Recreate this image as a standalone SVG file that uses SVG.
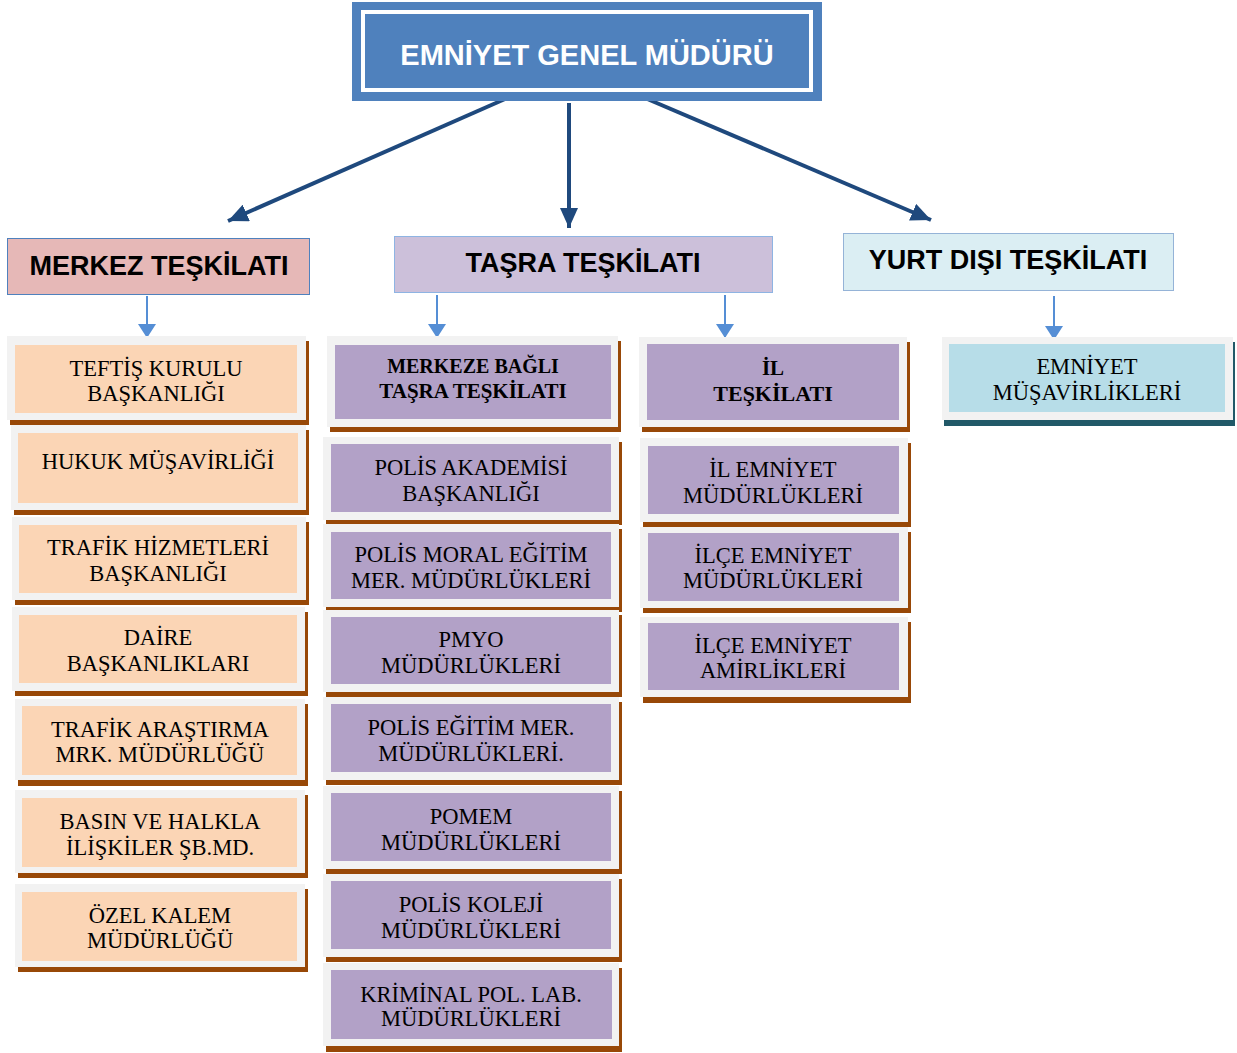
<svg xmlns="http://www.w3.org/2000/svg" width="1237" height="1053" viewBox="0 0 1237 1053">
<defs>
<style>
.title{font-family:"Liberation Sans",Arial,sans-serif;font-weight:bold;font-size:29px;fill:#ffffff;text-anchor:middle}
.head{font-family:"Liberation Sans",Arial,sans-serif;font-weight:bold;font-size:27px;fill:#000000;text-anchor:middle}
.t{font-family:"Liberation Serif","Times New Roman",serif;font-size:22.5px;fill:#000000;text-anchor:middle}
.tb{font-family:"Liberation Serif","Times New Roman",serif;font-weight:bold;font-size:21px;fill:#000000;text-anchor:middle}
.grey{fill:#f2f2f2}
.sh{fill:#984807}
.sh2{fill:#215968}
.peach{fill:#fbd5b5}
.purple{fill:#b2a1c7}
.cyan{fill:#b7dde8}
.big{stroke:#1f497d;stroke-width:4;fill:none}
.small{stroke:#558ed5;stroke-width:2;fill:none}
</style>
<marker id="bigHead" markerUnits="userSpaceOnUse" markerWidth="22" markerHeight="18" refX="20" refY="9" orient="auto">
<path d="M0,0 L20,9 L0,18 Z" fill="#1f497d"/>
</marker>
<marker id="smallHead" markerUnits="userSpaceOnUse" markerWidth="16" markerHeight="18" refX="14" refY="9" orient="auto">
<path d="M0,0 L14,9 L0,18 Z" fill="#558ed5"/>
</marker>
</defs>
<rect width="1237" height="1053" fill="#ffffff"/>

<g id="connectors">
<line class="big" x1="505" y1="99" x2="228" y2="221" marker-end="url(#bigHead)"/>
<line class="big" x1="569" y1="103" x2="569" y2="228" marker-end="url(#bigHead)"/>
<line class="big" x1="645" y1="98" x2="931" y2="220" marker-end="url(#bigHead)"/>
<line class="small" x1="147" y1="296" x2="147" y2="338" marker-end="url(#smallHead)"/>
<line class="small" x1="437" y1="295" x2="437" y2="338" marker-end="url(#smallHead)"/>
<line class="small" x1="725" y1="295" x2="725" y2="338" marker-end="url(#smallHead)"/>
<line class="small" x1="1054" y1="296" x2="1054" y2="340" marker-end="url(#smallHead)"/>
</g>

<g id="emniyet-genel-muduru">
<rect x="352" y="2" width="470" height="99" fill="#4f81bd"/>
<rect x="363" y="12" width="448" height="78" fill="none" stroke="#ffffff" stroke-width="4"/>
<text class="title" x="587" y="65">EMNİYET GENEL MÜDÜRÜ</text>
</g>

<g id="merkez-teskilati">
<rect x="7.5" y="238.5" width="302" height="56" fill="#e6b8b7" stroke="#4f81bd" stroke-width="1"/>
<text class="head" x="159" y="275">MERKEZ TEŞKİLATI</text>
</g>
<g id="tasra-teskilati">
<rect x="394.5" y="236.5" width="378" height="56" fill="#ccc0da" stroke="#8eb4e3" stroke-width="1"/>
<text class="head" x="583" y="272">TAŞRA TEŞKİLATI</text>
</g>
<g id="yurt-disi-teskilati">
<rect x="843.5" y="233.5" width="330" height="57" fill="#dbeef3" stroke="#95b3d7" stroke-width="1"/>
<text class="head" x="1008" y="269">YURT DIŞI TEŞKİLATI</text>
</g>

<!-- Column 1 -->
<g id="teftis">
<rect class="sh" x="10" y="341" width="299" height="84"/>
<rect class="grey" x="7" y="336" width="299" height="84"/>
<rect class="peach" x="15" y="345" width="282" height="68"/>
<text class="t" x="156" y="376">TEFTİŞ KURULU</text>
<text class="t" x="156" y="401">BAŞKANLIĞI</text>
</g>
<g id="hukuk">
<rect class="sh" x="14" y="430" width="295" height="85"/>
<rect class="grey" x="11" y="425" width="295" height="85"/>
<rect class="peach" x="18" y="433" width="280" height="70"/>
<text class="t" x="158" y="469">HUKUK MÜŞAVİRLİĞİ</text>
</g>
<g id="trafik-hizmetleri">
<rect class="sh" x="15" y="522" width="294" height="83"/>
<rect class="grey" x="12" y="517" width="294" height="83"/>
<rect class="peach" x="19" y="525" width="278" height="68"/>
<text class="t" x="158" y="555">TRAFİK HİZMETLERİ</text>
<text class="t" x="158" y="581">BAŞKANLIĞI</text>
</g>
<g id="daire">
<rect class="sh" x="15" y="612" width="293" height="84"/>
<rect class="grey" x="12" y="607" width="293" height="84"/>
<rect class="peach" x="19" y="615" width="278" height="68"/>
<text class="t" x="158" y="645">DAİRE</text>
<text class="t" x="158" y="671">BAŞKANLIKLARI</text>
</g>
<g id="trafik-arastirma">
<rect class="sh" x="18" y="704" width="290" height="82"/>
<rect class="grey" x="15" y="699" width="290" height="81"/>
<rect class="peach" x="22" y="706" width="275" height="69"/>
<text class="t" x="160" y="737">TRAFİK ARAŞTIRMA</text>
<text class="t" x="160" y="762">MRK. MÜDÜRLÜĞÜ</text>
</g>
<g id="basin">
<rect class="sh" x="18" y="795" width="290" height="83"/>
<rect class="grey" x="15" y="790" width="290" height="83"/>
<rect class="peach" x="22" y="798" width="275" height="69"/>
<text class="t" x="160" y="829">BASIN VE HALKLA</text>
<text class="t" x="160" y="855">İLİŞKİLER ŞB.MD.</text>
</g>
<g id="ozel-kalem">
<rect class="sh" x="18" y="889" width="290" height="83"/>
<rect class="grey" x="15" y="884" width="290" height="83"/>
<rect class="peach" x="22" y="892" width="275" height="69"/>
<text class="t" x="160" y="923">ÖZEL KALEM</text>
<text class="t" x="160" y="948">MÜDÜRLÜĞÜ</text>
</g>

<!-- Column 2 -->
<g id="merkeze-bagli">
<rect class="sh" x="330" y="341" width="291" height="91"/>
<rect class="grey" x="327" y="336" width="291" height="91"/>
<rect class="purple" x="335" y="345" width="276" height="74"/>
<text class="tb" x="473" y="373" style="font-size:20px">MERKEZE BAĞLI</text>
<text class="tb" x="473" y="398">TAŞRA TEŞKİLATI</text>
</g>
<g id="polis-akademisi">
<rect class="sh" x="326" y="442" width="296" height="83"/>
<rect class="grey" x="323" y="437" width="296" height="83"/>
<rect class="purple" x="331" y="444" width="280" height="68"/>
<text class="t" x="471" y="475">POLİS AKADEMİSİ</text>
<text class="t" x="471" y="501">BAŞKANLIĞI</text>
</g>
<g id="polis-moral">
<rect class="sh" x="326" y="529" width="296" height="83"/>
<rect class="grey" x="323" y="524" width="296" height="83"/>
<rect class="purple" x="331" y="532" width="280" height="67"/>
<text class="t" x="471" y="562">POLİS MORAL EĞİTİM</text>
<text class="t" x="471" y="588">MER. MÜDÜRLÜKLERİ</text>
</g>
<g id="pmyo">
<rect class="sh" x="326" y="615" width="296" height="82"/>
<rect class="grey" x="323" y="610" width="296" height="82"/>
<rect class="purple" x="331" y="617" width="280" height="67"/>
<text class="t" x="471" y="647">PMYO</text>
<text class="t" x="471" y="673">MÜDÜRLÜKLERİ</text>
</g>
<g id="polis-egitim">
<rect class="sh" x="326" y="702" width="296" height="83"/>
<rect class="grey" x="323" y="697" width="296" height="83"/>
<rect class="purple" x="331" y="704" width="280" height="68"/>
<text class="t" x="471" y="735">POLİS EĞİTİM MER.</text>
<text class="t" x="471" y="761">MÜDÜRLÜKLERİ.</text>
</g>
<g id="pomem">
<rect class="sh" x="326" y="791" width="296" height="83"/>
<rect class="grey" x="323" y="786" width="296" height="83"/>
<rect class="purple" x="331" y="793" width="280" height="68"/>
<text class="t" x="471" y="824">POMEM</text>
<text class="t" x="471" y="850">MÜDÜRLÜKLERİ</text>
</g>
<g id="polis-koleji">
<rect class="sh" x="326" y="879" width="296" height="83"/>
<rect class="grey" x="323" y="874" width="296" height="83"/>
<rect class="purple" x="331" y="881" width="280" height="68"/>
<text class="t" x="471" y="912">POLİS KOLEJİ</text>
<text class="t" x="471" y="938">MÜDÜRLÜKLERİ</text>
</g>
<g id="kriminal">
<rect class="sh" x="326" y="968" width="296" height="84"/>
<rect class="grey" x="323" y="963" width="296" height="83"/>
<rect class="purple" x="331" y="970" width="281" height="69"/>
<text class="t" x="471" y="1002">KRİMİNAL POL. LAB.</text>
<text class="t" x="471" y="1026">MÜDÜRLÜKLERİ</text>
</g>

<!-- Column 3 -->
<g id="il-teskilati">
<rect class="sh" x="642" y="342" width="268" height="90"/>
<rect class="grey" x="639" y="337" width="268" height="90"/>
<rect class="purple" x="647" y="344" width="252" height="76"/>
<text class="tb" x="773" y="375">İL</text>
<text class="tb" x="773" y="401" style="font-size:22px">TEŞKİLATI</text>
</g>
<g id="il-emniyet">
<rect class="sh" x="643" y="443" width="268" height="84"/>
<rect class="grey" x="640" y="438" width="268" height="84"/>
<rect class="purple" x="648" y="446" width="251" height="68"/>
<text class="t" x="773" y="477">İL EMNİYET</text>
<text class="t" x="773" y="503">MÜDÜRLÜKLERİ</text>
</g>
<g id="ilce-emniyet-mudurlukleri">
<rect class="sh" x="643" y="532" width="268" height="81"/>
<rect class="grey" x="640" y="527" width="268" height="81"/>
<rect class="purple" x="648" y="533" width="251" height="68"/>
<text class="t" x="773" y="563">İLÇE EMNİYET</text>
<text class="t" x="773" y="588">MÜDÜRLÜKLERİ</text>
</g>
<g id="ilce-emniyet-amirlikleri">
<rect class="sh" x="643" y="622" width="268" height="81"/>
<rect class="grey" x="640" y="617" width="268" height="80"/>
<rect class="purple" x="648" y="623" width="251" height="67"/>
<text class="t" x="773" y="653">İLÇE EMNİYET</text>
<text class="t" x="773" y="678">AMİRLİKLERİ</text>
</g>

<!-- Column 4 -->
<g id="emniyet-musavirlikleri">
<rect class="sh2" x="944" y="342" width="291" height="84"/>
<rect class="grey" x="942" y="337" width="291" height="83"/>
<rect class="cyan" x="949" y="344" width="276" height="68"/>
<text class="t" x="1087" y="374">EMNİYET</text>
<text class="t" x="1087" y="400">MÜŞAVİRLİKLERİ</text>
</g>
</svg>
